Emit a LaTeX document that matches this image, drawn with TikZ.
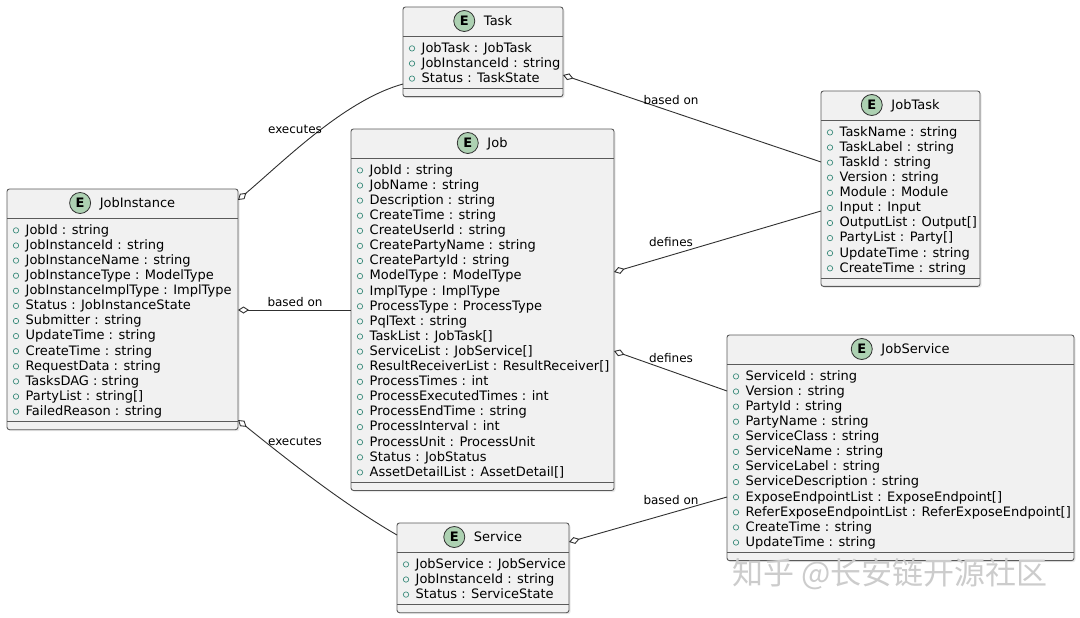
\documentclass[tikz,border=0pt]{standalone}
\usepackage{fontspec}
\setmainfont{DejaVu Sans}
\newfontfamily\cjk{Noto Sans CJK SC}
\usetikzlibrary{arrows.meta,shadows,calc}
\definecolor{boxfill}{HTML}{F1F1F1}
\definecolor{boxline}{HTML}{5A5A5A}
\definecolor{linkline}{HTML}{303030}
\definecolor{ecol}{HTML}{ADD1B2}
\definecolor{bulletcol}{HTML}{3C8C7C}
\tikzset{
  entbox/.style={draw=boxline, fill=boxfill, line width=0.9pt, rounded corners=2.5pt, outer sep=0pt, inner sep=0pt,
    drop shadow={shadow xshift=1.5pt, shadow yshift=-1.5pt, opacity=0.18}},
  sepline/.style={draw=boxline, line width=0.9pt},
  titletext/.style={inner sep=0pt, anchor=base, font=\fontsize{13}{15}\selectfont},
  ecirc/.style={circle, draw=linkline, fill=ecol, line width=0.8pt, minimum size=21pt, inner sep=0pt, font=\fontsize{13}{15}\selectfont\bfseries},
  attr/.style={inner sep=0pt, anchor=base west, font=\fontsize{13}{15}\selectfont},
  bulletmark/.style={draw=bulletcol, line width=0.7pt},
  conn/.style={draw=linkline, line width=0.9pt},
  agg/.style={conn, {Diamond[length=11pt, width=7pt, fill=white]}-},
  lbl/.style={inner sep=0pt, anchor=base, font=\fontsize{12}{14}\selectfont},
  wm/.style={inner sep=0pt, text=gray!40, font=\cjk\fontsize{31}{33}\selectfont}
}
\newcommand{\entity}[7]{%
  \pgfmathsetmacro{\eh}{29+11.5+(#5-1)*15.1+19}
  \node[entbox, minimum width={(#4-#2)*1pt}, minimum height={\eh*1pt}, anchor=north west] (#1) at (#2,#3) {};
  \draw[sepline] ([yshift=-29pt]#1.north west) -- ([yshift=-29pt]#1.north east);
  \draw[sepline] ([yshift=8pt]#1.south west) -- ([yshift=8pt]#1.south east);
  \node[titletext] (#1-title) at ([xshift=15pt, yshift=-18.7pt]#1.north) {#6};
  \node[ecirc] (#1-e) at ([xshift=-19.5pt, yshift=4.7pt]#1-title.base west) {E};
  \foreach \a [count=\i] in {#7} {
    \pgfmathsetmacro{\ay}{#3+45.2+(\i-1)*15.1}
    \draw[bulletmark] (#2+9,\ay-3.8) circle[radius=2.7pt];
    \node[attr] (#1-a\i) at (#2+18.5,\ay) {\a};
  }
}
\begin{document}
\begin{tikzpicture}[x=1pt, y=-1pt]
\useasboundingbox (0,0) rectangle (1080,618);
\fill[white] (0,0) rectangle (1080,618);

\entity{task}{403}{7}{563}{3}{Task}{JobTask : JobTask, JobInstanceId : string, Status : TaskState}
\entity{jobtask}{821}{91}{980}{10}{JobTask}{TaskName : string, TaskLabel : string, TaskId : string, Version : string, Module : Module, Input : Input, OutputList : Output[], PartyList : Party[], UpdateTime : string, CreateTime : string}
\entity{job}{351}{129}{614}{21}{Job}{JobId : string, JobName : string, Description : string, CreateTime : string, CreateUserId : string, CreatePartyName : string, CreatePartyId : string, ModelType : ModelType, ImplType : ImplType, ProcessType : ProcessType, PqlText : string, TaskList : JobTask[], ServiceList : JobService[], ResultReceiverList : ResultReceiver[], ProcessTimes : int, ProcessExecutedTimes : int, ProcessEndTime : string, ProcessInterval : int, ProcessUnit : ProcessUnit, Status : JobStatus, AssetDetailList : AssetDetail[]}
\entity{ji}{7}{189}{238}{13}{JobInstance}{JobId : string, JobInstanceId : string, JobInstanceName : string, JobInstanceType : ModelType, JobInstanceImplType : ImplType, Status : JobInstanceState, Submitter : string, UpdateTime : string, CreateTime : string, RequestData : string, TasksDAG : string, PartyList : string[], FailedReason : string}
\entity{js}{727}{335}{1074}{12}{JobService}{ServiceId : string, Version : string, PartyId : string, PartyName : string, ServiceClass : string, ServiceName : string, ServiceLabel : string, ServiceDescription : string, ExposeEndpointList : ExposeEndpoint[], ReferExposeEndpointList : ReferExposeEndpoint[], CreateTime : string, UpdateTime : string}
\entity{svc}{397}{523}{569}{3}{Service}{JobService : JobService, JobInstanceId : string, Status : ServiceState}

% connectors
\draw[agg] ([yshift=-11pt]ji.north east) .. controls +(47,-40) and +(-58,16) .. ([yshift=-77pt]task.north west);
\draw[agg] ([yshift=-121pt]ji.north east) -- ([yshift=-181pt]job.north west);
\draw[agg] ([yshift=-231pt]ji.north east) .. controls +(52,42) and +(-52,-30) .. ([yshift=-12pt]svc.north west);
\draw[agg] ([yshift=-68pt]task.north east) -- ([yshift=-71pt]jobtask.north west);
\draw[agg] ([yshift=-143pt]job.north east) -- ([yshift=-120pt]jobtask.north west);
\draw[agg] ([yshift=-222pt]job.north east) -- ([yshift=-56pt]js.north west);
\draw[agg] ([yshift=-19pt]svc.north east) -- ([yshift=-162pt]js.north west);

% labels
\node[lbl] (l1) at (295,133.3) {executes};
\node[lbl] (l2) at (295,306.5) {based on};
\node[lbl] (l3) at (295,445) {executes};
\node[lbl] (l4) at (671,105) {based on};
\node[lbl] (l5) at (671,246.5) {defines};
\node[lbl] (l6) at (671,362.5) {defines};
\node[lbl] (l7) at (671,504.5) {based on};

% watermark
\node[wm] (wmk) at (890,574) {知乎 @长安链开源社区};
\end{tikzpicture}
\end{document}
